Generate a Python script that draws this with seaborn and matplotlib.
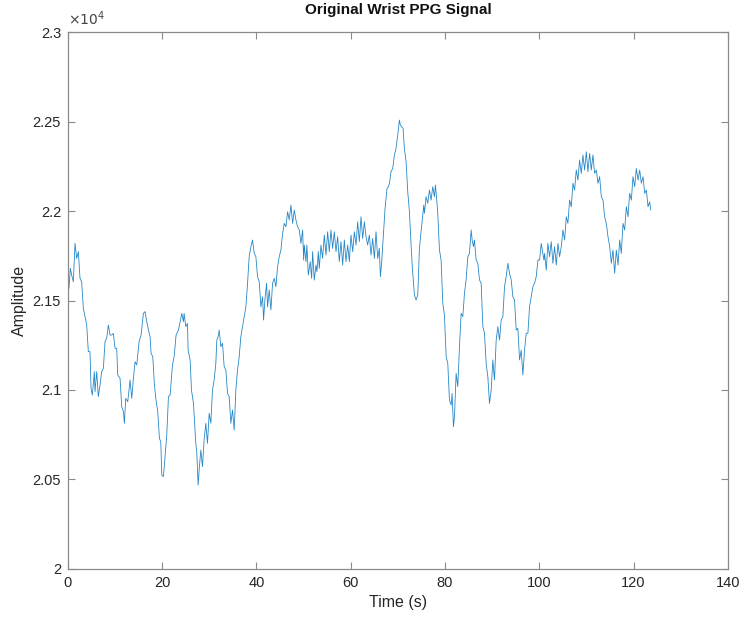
import matplotlib
matplotlib.use("Agg")
import matplotlib.pyplot as plt
import seaborn as sns
import pandas as pd

# Wrist PPG recording: time stamps (s) and raw amplitude (counts)
time_s = [
    0.21, 0.50, 0.78, 1.13, 1.49, 1.84, 2.20, 2.34, 2.55, 2.90, 3.26, 3.61, 3.97, 4.32, 4.67, 4.89,
    5.17, 5.59, 5.74, 6.09, 6.44, 6.80, 7.15, 7.51, 7.86, 8.21, 8.57, 8.92, 9.28, 9.63, 9.98, 10.34,
    10.55, 11.05, 11.40, 11.76, 11.97, 12.25, 12.68, 13.17, 13.53, 13.88, 14.23, 14.59, 15.08, 15.51,
    16.00, 16.36, 16.71, 17.07, 17.42, 17.63, 17.99, 18.34, 18.63, 19.05, 19.40, 19.69, 19.90, 20.25,
    20.61, 20.96, 21.32, 21.67, 22.17, 22.52, 22.94, 23.44, 23.79, 24.15, 24.50,
    24.64, 24.99, 25.35, 25.49, 25.92, 26.20, 26.63, 27.12, 27.34, 27.62, 27.83, 28.19, 28.54, 28.89,
    29.25, 29.60, 29.96, 30.31, 30.66, 31.02, 31.37, 31.58, 31.87, 32.08, 32.43, 32.79, 33.14, 33.50,
    33.85, 34.20, 34.56, 34.91, 35.27, 35.62, 35.98, 36.33, 36.68, 37.04, 37.39, 37.75, 38.10, 38.45,
    38.81, 39.16, 39.52, 39.87, 40.22, 40.58, 40.93, 41.29, 41.50, 41.78, 42.14, 42.35, 42.70, 43.06,
    43.41, 43.77, 44.12, 44.47, 44.83, 45.18, 45.54, 45.89, 46.24, 46.60, 46.95, 47.31, 47.66, 48.02,
    48.37, 48.72, 49.08, 49.43, 49.79, 50.00,
    50.14, 50.49, 50.70, 50.99, 51.41, 51.70, 51.91, 52.26, 52.62, 52.83, 53.11, 53.33, 53.68, 54.03,
    54.39, 54.74, 55.10, 55.45, 55.80, 56.16, 56.51, 56.87, 57.22, 57.57, 57.93, 58.28, 58.64, 58.99,
    59.35, 59.70, 60.05, 60.41, 60.76, 61.12, 61.47, 61.82, 62.18, 62.53, 62.89, 63.24, 63.59, 63.95,
    64.30, 64.66, 65.01, 65.36, 65.72, 66.07, 66.29, 66.57, 67.01, 67.28, 67.70, 67.99, 68.20, 68.55,
    68.91, 69.26, 69.61, 69.97, 70.32, 70.53, 70.82, 71.10, 71.38, 71.74, 72.09, 72.45, 72.80, 73.08,
    73.51, 73.86, 74.22, 74.57, 74.92, 75.49,
    75.63, 75.99, 76.34, 76.70, 77.05, 77.40, 77.76, 77.97, 78.25, 78.46, 78.82, 79.17, 79.53, 79.88,
    80.24, 80.59, 80.94, 81.30, 81.51, 81.79, 82.01, 82.36, 82.71, 83.07, 83.42, 83.78, 84.13, 84.48,
    84.84, 85.19, 85.55, 85.76, 86.04, 86.25, 86.61, 86.96, 87.32, 87.67, 88.03, 88.38, 88.73, 89.09,
    89.44, 89.80, 90.15, 90.50, 90.86, 91.21, 91.57, 91.92, 92.28, 92.63, 92.98, 93.34, 93.69, 94.05,
    94.40, 94.75, 95.11, 95.46, 95.82, 96.17, 96.52, 96.88, 97.23, 97.59, 97.94, 98.29, 98.65, 99.00,
    99.36, 99.71, 100.06, 100.42, 100.77, 100.99,
    101.13, 101.48, 101.83, 102.19, 102.54, 102.90, 103.25, 103.61, 103.96, 104.31, 104.67, 105.02,
    105.38, 105.73, 106.08, 106.44, 106.79, 107.15, 107.50, 107.85, 108.21, 108.56, 108.92, 109.27,
    109.62, 109.98, 110.33, 110.69, 111.04, 111.39, 111.75, 112.10, 112.46, 112.81, 113.17, 113.52,
    113.87, 114.23, 114.58, 114.94, 115.29, 115.64, 116.00, 116.35, 116.71, 117.06, 117.41, 117.77,
    118.12, 118.48, 118.83, 119.18, 119.54, 119.89, 120.25, 120.60, 120.96, 121.31, 121.66, 122.02,
    122.37, 122.73, 123.08, 123.43, 123.65,
]

amplitude = [
    21568, 21680, 21642, 21605, 21819, 21735, 21773, 21717, 21624, 21605, 21456, 21410, 21363, 21214, 21214, 21009,
    20972, 21102, 20991, 21102, 20963, 21028, 21102, 21121, 21270, 21289, 21363, 21307, 21307, 21316, 21233, 21233,
    21084, 21065, 20907, 20879, 20814, 20953, 20935, 21056, 20953, 21065, 21158, 21140, 21270, 21307,
    21428, 21438, 21382, 21335, 21298, 21205, 21186, 21028, 20953, 20879, 20730, 20711, 20525, 20516,
    20637, 20748, 20963, 20972, 21140, 21186, 21307, 21335, 21382, 21428, 21382,
    21428, 21354, 21372, 21223, 21168, 21000, 20925, 20702, 20646, 20469, 20553, 20665, 20572, 20721,
    20814, 20702, 20870, 20814, 21000, 21056, 21149, 21279, 21298, 21335, 21242, 21261, 21130, 21112,
    20981, 20963, 20814, 20888, 20776, 21000, 21112, 21186, 21298, 21354, 21410, 21465, 21596, 21745,
    21801, 21838, 21763, 21745, 21633, 21605, 21465, 21521, 21391, 21503, 21596, 21465, 21559, 21447,
    21596, 21624, 21577, 21689, 21745, 21782, 21875, 21931, 21912, 21996, 21950, 22033, 21931, 22005,
    21950, 21912, 21894, 21819, 21894, 21726,
    21810, 21717, 21810, 21642, 21717, 21624, 21773, 21614, 21698, 21661, 21773, 21680, 21810, 21735,
    21866, 21754, 21884, 21773, 21894, 21791, 21884, 21773, 21857, 21717, 21829, 21698, 21838, 21717,
    21810, 21717, 21866, 21773, 21884, 21810, 21940, 21829, 21968, 21847, 21940, 21857, 21810, 21866,
    21754, 21847, 21735, 21884, 21735, 21791, 21633, 21717, 21903, 22015, 22127, 22136, 22154, 22220,
    22238, 22313, 22350, 22425, 22508, 22480, 22471, 22462, 22350, 22276, 22108, 21996, 21810, 21680,
    21531, 21503, 21531, 21791, 21884, 22033,
    21987, 22080, 22043, 22117, 22061, 22136, 22080, 22145, 22061, 21987, 21782, 21726, 21484, 21419,
    21186, 21149, 20944, 20916, 20981, 20795, 20851, 21093, 21019, 21242, 21428, 21410, 21540, 21615,
    21745, 21763, 21894, 21838, 21801, 21838, 21726, 21708, 21615, 21596, 21354, 21317, 21149, 21074,
    20925, 21000, 21168, 21056, 21279, 21354, 21279, 21391, 21410, 21577, 21633, 21708, 21652, 21615,
    21521, 21503, 21335, 21345, 21168, 21223, 21084, 21223, 21317, 21317, 21466, 21521, 21577, 21596,
    21633, 21726, 21726, 21819, 21763, 21726,
    21763, 21670, 21819, 21745, 21829, 21708, 21801, 21698, 21819, 21745, 21801, 21894,
    21838, 21968, 21931, 22061, 22024, 22155, 22117, 22229, 22173, 22285, 22210, 22313,
    22229, 22331, 22220, 22322, 22229, 22313, 22210, 22229, 22155, 22192, 22080, 22061,
    21968, 21931, 21857, 21801, 21708, 21782, 21652, 21782, 21698, 21838, 21763, 21931,
    21894, 22024, 21968, 22099, 22061, 22192, 22136, 22238, 22173, 22229, 22155, 22192,
    22099, 22117, 22024, 22052, 22005,
]

x_ticks = [0, 20, 40, 60, 80, 100, 120, 140]
y_ticks = [20000, 20500, 21000, 21500, 22000, 22500, 23000]
y_tick_labels = ["2", "2.05", "2.1", "2.15", "2.2", "2.25", "2.3"]

df = pd.DataFrame({"Time (s)": time_s, "Amplitude": amplitude})

sns.set_theme(style="white")
plt.rcParams["font.family"] = ["Liberation Sans", "DejaVu Sans"]

fig = plt.figure(figsize=(7.43, 6.23), dpi=100)
ax = fig.add_axes([0.0915, 0.0867, 0.888, 0.8619])

sns.lineplot(data=df, x="Time (s)", y="Amplitude", ax=ax, color="#0072BD",
             linewidth=0.6, alpha=0.85, estimator=None, sort=False)

ax.set_xlim(0, 140)
ax.set_ylim(20000, 23000)
ax.set_xticks(x_ticks)
ax.set_xticklabels([str(v) for v in x_ticks])
ax.set_yticks(y_ticks)
ax.set_yticklabels(y_tick_labels)

edge = "#8a8a8a"
for sp in ax.spines.values():
    sp.set_visible(True)
    sp.set_color(edge)
    sp.set_linewidth(0.9)
ax.tick_params(direction="in", length=5, width=0.8, color=edge, top=True, right=True,
               bottom=True, left=True, labelsize=10.5, labelcolor="#262626", pad=5)

ax.set_xlabel("Time (s)", fontsize=11.5, color="#262626", labelpad=4)
ax.set_ylabel("Amplitude", fontsize=11.5, color="#262626", labelpad=4)
ax.set_title("Original Wrist PPG Signal", fontsize=11, fontweight="bold", color="#111111", pad=13)

ax.text(0.0, 1.008, r"$\times10^{4}$", transform=ax.transAxes, ha="left", va="bottom",
        fontsize=10, color="#444444")

fig.savefig("out.png", dpi=100, facecolor="white")
